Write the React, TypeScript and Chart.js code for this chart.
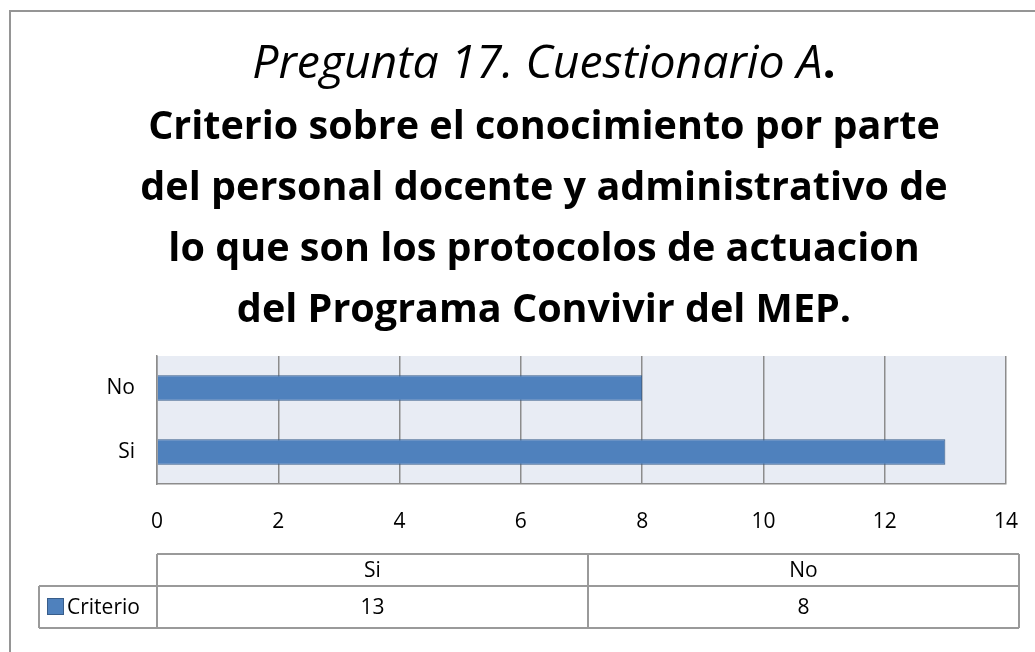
import React, { useEffect, useRef } from "react";
import { Chart, registerables } from "chart.js";

Chart.register(...registerables);

const categories = ["Si", "No"];
const seriesName = "Criterio";
const values = [13, 8];
const xTicks = [0, 2, 4, 6, 8, 10, 12, 14];
const titleItalic = "Pregunta 17. Cuestionario A";
const titleBoldLines = [
  "Criterio sobre el conocimiento por parte",
  "del personal docente y administrativo de",
  "lo que son los protocolos de actuacion",
  "del Programa Convivir del MEP.",
];

const FONT = "'Open Sans', Lato, sans-serif";

function fitSize(ctx: any, style: string, text: string, target: number) {
  ctx.font = style + " 40px " + FONT;
  const w = ctx.measureText(text).width;
  return (40 * target) / w;
}

const framePlugin = {
  id: "frame",
  beforeDraw(chart: any) {
    const { ctx, chartArea } = chart;
    ctx.save();
    ctx.fillStyle = "#ffffff";
    ctx.fillRect(0, 0, chart.width, chart.height);
    ctx.fillStyle = "#e8ecf4";
    ctx.fillRect(chartArea.left, chartArea.top, chartArea.right - chartArea.left, chartArea.bottom - chartArea.top);
    ctx.restore();
  },
  afterDraw(chart: any) {
    const { ctx, chartArea } = chart;
    ctx.save();
    // outer border
    ctx.strokeStyle = "#959595";
    ctx.lineWidth = 2;
    ctx.beginPath();
    ctx.moveTo(10, chart.height + 5);
    ctx.lineTo(10, 11);
    ctx.lineTo(chart.width + 5, 11);
    ctx.stroke();

    // title
    ctx.fillStyle = "#000";
    ctx.textBaseline = "middle";
    const cx = 544;
    const iSize = fitSize(ctx, "italic", titleItalic + ".", 582);
    ctx.font = "italic " + iSize + "px " + FONT;
    const w1 = ctx.measureText(titleItalic).width;
    ctx.font = "bold " + iSize + "px " + FONT;
    const wd = ctx.measureText(".").width;
    const startX = cx - (w1 + wd) / 2;
    ctx.textAlign = "left";
    ctx.font = "italic " + iSize + "px " + FONT;
    ctx.fillText(titleItalic, startX, 65);
    ctx.font = "bold " + iSize + "px " + FONT;
    ctx.fillText(".", startX + w1, 65);
    const bSize = fitSize(ctx, "bold", titleBoldLines[0], 792);
    ctx.font = "bold " + bSize + "px " + FONT;
    ctx.textAlign = "center";
    titleBoldLines.forEach((l, i) => ctx.fillText(l, cx, 128 + i * 61));

    // data table
    const tL = chartArea.left;
    const tR = chartArea.right + 13;
    const colW = (tR - tL) / categories.length;
    const y0 = 554, y1 = 586, y2 = 628;
    const leftX = 39;
    ctx.strokeStyle = "#9a9a9a";
    ctx.lineWidth = 2;
    ctx.beginPath();
    ctx.moveTo(tL, y0); ctx.lineTo(tR, y0);
    ctx.moveTo(leftX, y1); ctx.lineTo(tR, y1);
    ctx.moveTo(leftX, y2); ctx.lineTo(tR, y2);
    ctx.moveTo(leftX, y1); ctx.lineTo(leftX, y2);
    for (let i = 0; i <= categories.length; i++) {
      const x = tL + i * colW;
      ctx.moveTo(x, y0); ctx.lineTo(x, y2);
    }
    ctx.stroke();
    ctx.font = "21px " + FONT;
    ctx.fillStyle = "#000";
    ctx.textAlign = "center";
    categories.forEach((c, i) => {
      ctx.fillText(c, tL + (i + 0.5) * colW, (y0 + y1) / 2 + 1);
      ctx.fillText(String(values[i]), tL + (i + 0.5) * colW, (y1 + y2) / 2 + 1);
    });
    // legend key
    ctx.fillStyle = "#4f81bd";
    ctx.strokeStyle = "#385d8a";
    ctx.lineWidth = 1;
    ctx.fillRect(47, 598, 17, 17);
    ctx.strokeRect(47.5, 598.5, 16, 16);
    ctx.fillStyle = "#000";
    ctx.textAlign = "left";
    ctx.fillText(seriesName, 67, (y1 + y2) / 2 + 1);
    ctx.restore();
  },
};

export default function App() {
  const ref = useRef<HTMLCanvasElement>(null);
  useEffect(() => {
    const chart = new Chart(ref.current as HTMLCanvasElement, {
      type: "bar",
      data: {
        labels: categories,
        datasets: [
          {
            label: seriesName,
            data: values,
            backgroundColor: "#4f81bd",
            borderColor: "#385d8a",
            borderWidth: 1,
            categoryPercentage: 1,
            barPercentage: 0.4,
          },
        ],
      },
      options: {
        indexAxis: "y",
        animation: false,
        responsive: false,
        layout: { padding: { top: 356, right: 29, bottom: 108, left: 0 } },
        plugins: { legend: { display: false }, title: { display: false }, tooltip: { enabled: false } },
        scales: {
          x: {
            min: 0,
            max: 14,
            afterBuildTicks: (s: any) => { s.ticks = xTicks.map((v) => ({ value: v })); },
            grid: { color: "#8c8c8c", lineWidth: 1.5, drawTicks: false },
            border: { color: "#8c8c8c", width: 1.5 },
            ticks: { color: "#000", font: { family: FONT, size: 21 }, padding: 25, maxRotation: 0 },
            afterFit: (s: any) => { s.height = 60; s.paddingLeft = 0; s.paddingRight = 0; },
          },
          y: {
            reverse: true,
            grid: { display: false, drawTicks: false },
            border: { color: "#8c8c8c", width: 1.5 },
            ticks: { color: "#000", font: { family: FONT, size: 21 }, padding: 22 },
            afterFit: (s: any) => { s.width = 157; s.paddingTop = 0; s.paddingBottom = 0; },
          },
        },
      },
      plugins: [framePlugin],
    });
    return () => chart.destroy();
  }, []);
  return (
    <div style={{ position: "fixed", left: 0, top: 0, width: 1035, height: 652 }}>
      <canvas ref={ref} width={1035} height={652} style={{ width: 1035, height: 652 }} />
    </div>
  );
}
